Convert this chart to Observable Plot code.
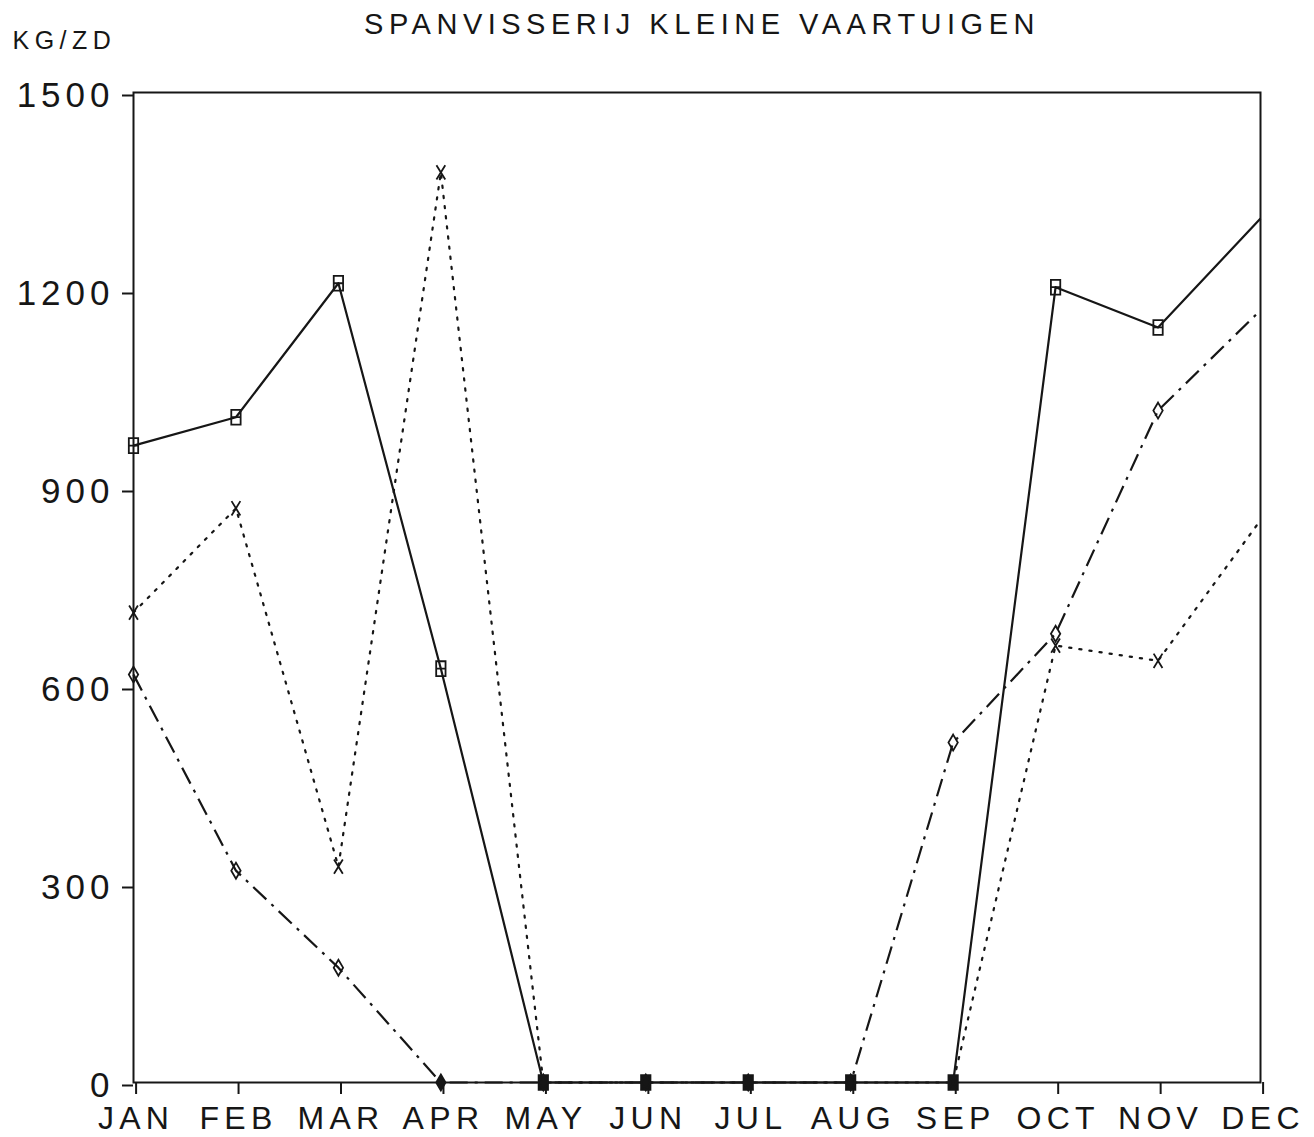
<!DOCTYPE html>
<html>
<head>
<meta charset="utf-8">
<script src="https://cdn.jsdelivr.net/npm/d3@7"></script>
<script src="https://cdn.jsdelivr.net/npm/@observablehq/plot@0.6"></script>
<style>
  html, body { margin: 0; padding: 0; background: #fff; }
  #chart svg { display: block; }
</style>
</head>
<body>
<div id="chart"></div>
<script>
const months = ["JAN","FEB","MAR","APR","MAY","JUN","JUL","AUG","SEP","OCT","NOV","DEC"];
const yTicks = [0, 300, 600, 900, 1200, 1500];
const title = "SPANVISSERIJ KLEINE VAARTUIGEN";
const yLabel = "KG/ZD";

// series drawn with square markers (solid line)
const squareSeries = [965, 1008, 1211, 627, 0, 0, 0, 0, 0, 1205, 1144, 1309];
// series drawn with x markers (dotted line)
const crossSeries = [712, 870, 327, 1379, 0, 0, 0, 0, 0, 662, 639, 852];
// series drawn with diamond markers (dash-dot line)
const diamondSeries = [618, 321, 174, 0, 0, 0, 0, 0, 515, 680, 1018, 1170];

// plotter-like marker shapes (taller than wide)
const symTallSquare = {
  draw(ctx, size) {
    const r = Math.sqrt(size / Math.PI);
    const w = r * 0.85, h = r * 1.35;
    ctx.moveTo(-w, -h); ctx.lineTo(w, -h); ctx.lineTo(w, h); ctx.lineTo(-w, h); ctx.closePath();
    ctx.moveTo(-w, 0); ctx.lineTo(w, 0);
  }
};
const symTallDiamond = {
  draw(ctx, size) {
    const r = Math.sqrt(size / Math.PI);
    const w = r * 0.85, h = r * 1.45;
    ctx.moveTo(0, -h); ctx.lineTo(w, 0); ctx.lineTo(0, h); ctx.lineTo(-w, 0); ctx.closePath();
  }
};
const symTallCross = {
  draw(ctx, size) {
    const r = Math.sqrt(size / Math.PI);
    const w = r * 0.8, h = r * 1.3;
    ctx.moveTo(-w, -h); ctx.lineTo(w, h);
    ctx.moveTo(w, -h); ctx.lineTo(-w, h);
  }
};

const seriesDefs = [
  {values: squareSeries, symbol: symTallSquare, dash: null, cap: "butt"},
  {values: crossSeries, symbol: symTallCross, dash: "2.2,8", cap: "round"},
  {values: diamondSeries, symbol: symTallDiamond, dash: "18,7,3,7", cap: "butt"}
];

const ink = "#161616";
const font = "'Liberation Sans', Arial, sans-serif";

const marks = [];
for (const s of seriesDefs) {
  const rows = months.map((m, i) => ({month: m, value: s.values[i], idx: i}));
  marks.push(Plot.line(rows, {
    x: "month", y: "value",
    stroke: ink, strokeWidth: 2.2,
    strokeDasharray: s.dash,
    strokeLinecap: s.cap,
    curve: "linear"
  }));
  // markers JAN..NOV (no marker at DEC, where the curve meets the frame)
  const pts = rows.filter(d => d.idx < 11);
  marks.push(Plot.dot(pts, {
    x: "month", y: "value",
    symbol: () => s.symbol,
    r: 5.5,
    stroke: ink, strokeWidth: 1.8,
    fill: d => d.value === 0 ? ink : "none"
  }));
}

const chart = Plot.plot({
  width: 1314,
  height: 1137,
  marginLeft: 133,
  marginRight: 54,
  marginTop: 92,
  marginBottom: 55,
  style: {background: "#fff", color: ink, fontFamily: font},
  x: {type: "point", domain: months, padding: 0, round: false},
  y: {domain: [0, 1500]},
  symbol: {type: "identity"},
  marks: [
    Plot.frame({stroke: ink, strokeWidth: 2}),
    Plot.axisX({
      tickSize: 12, tickPadding: 12, fontSize: 32, label: null,
      stroke: ink, strokeWidth: 2, fill: ink, fontFamily: font,
      dx: 2.6
    }),
    Plot.axisY({
      ticks: yTicks, tickSize: 11, tickPadding: 8, fontSize: 35, label: null,
      tickFormat: d => String(d),
      stroke: ink, strokeWidth: 2, fill: ink, fontFamily: font,
      dy: 3
    }),
    ...marks,
    Plot.text([title], {
      text: d => d, frameAnchor: "top", dx: 5, dy: -79,
      fontSize: 29, fill: ink, fontFamily: font,
      lineAnchor: "top"
    }),
    Plot.text([yLabel], {
      text: d => d, frameAnchor: "top-left", dx: -121, dy: -61,
      textAnchor: "start", lineAnchor: "top",
      fontSize: 25, fill: ink, fontFamily: font
    })
  ]
});

// plotter lettering is wide: add letter spacing
const svg = d3.select(chart);
svg.selectAll("g[aria-label='x-axis tick label'] text").style("letter-spacing", "5.3px");
svg.selectAll("g[aria-label='y-axis tick label'] text").style("letter-spacing", "5px");
svg.selectAll("text").filter(function() { return this.textContent === title; }).style("letter-spacing", "5.5px");
svg.selectAll("text").filter(function() { return this.textContent === yLabel; }).style("letter-spacing", "5.5px");

document.getElementById("chart").appendChild(chart);
</script>
</body>
</html>
